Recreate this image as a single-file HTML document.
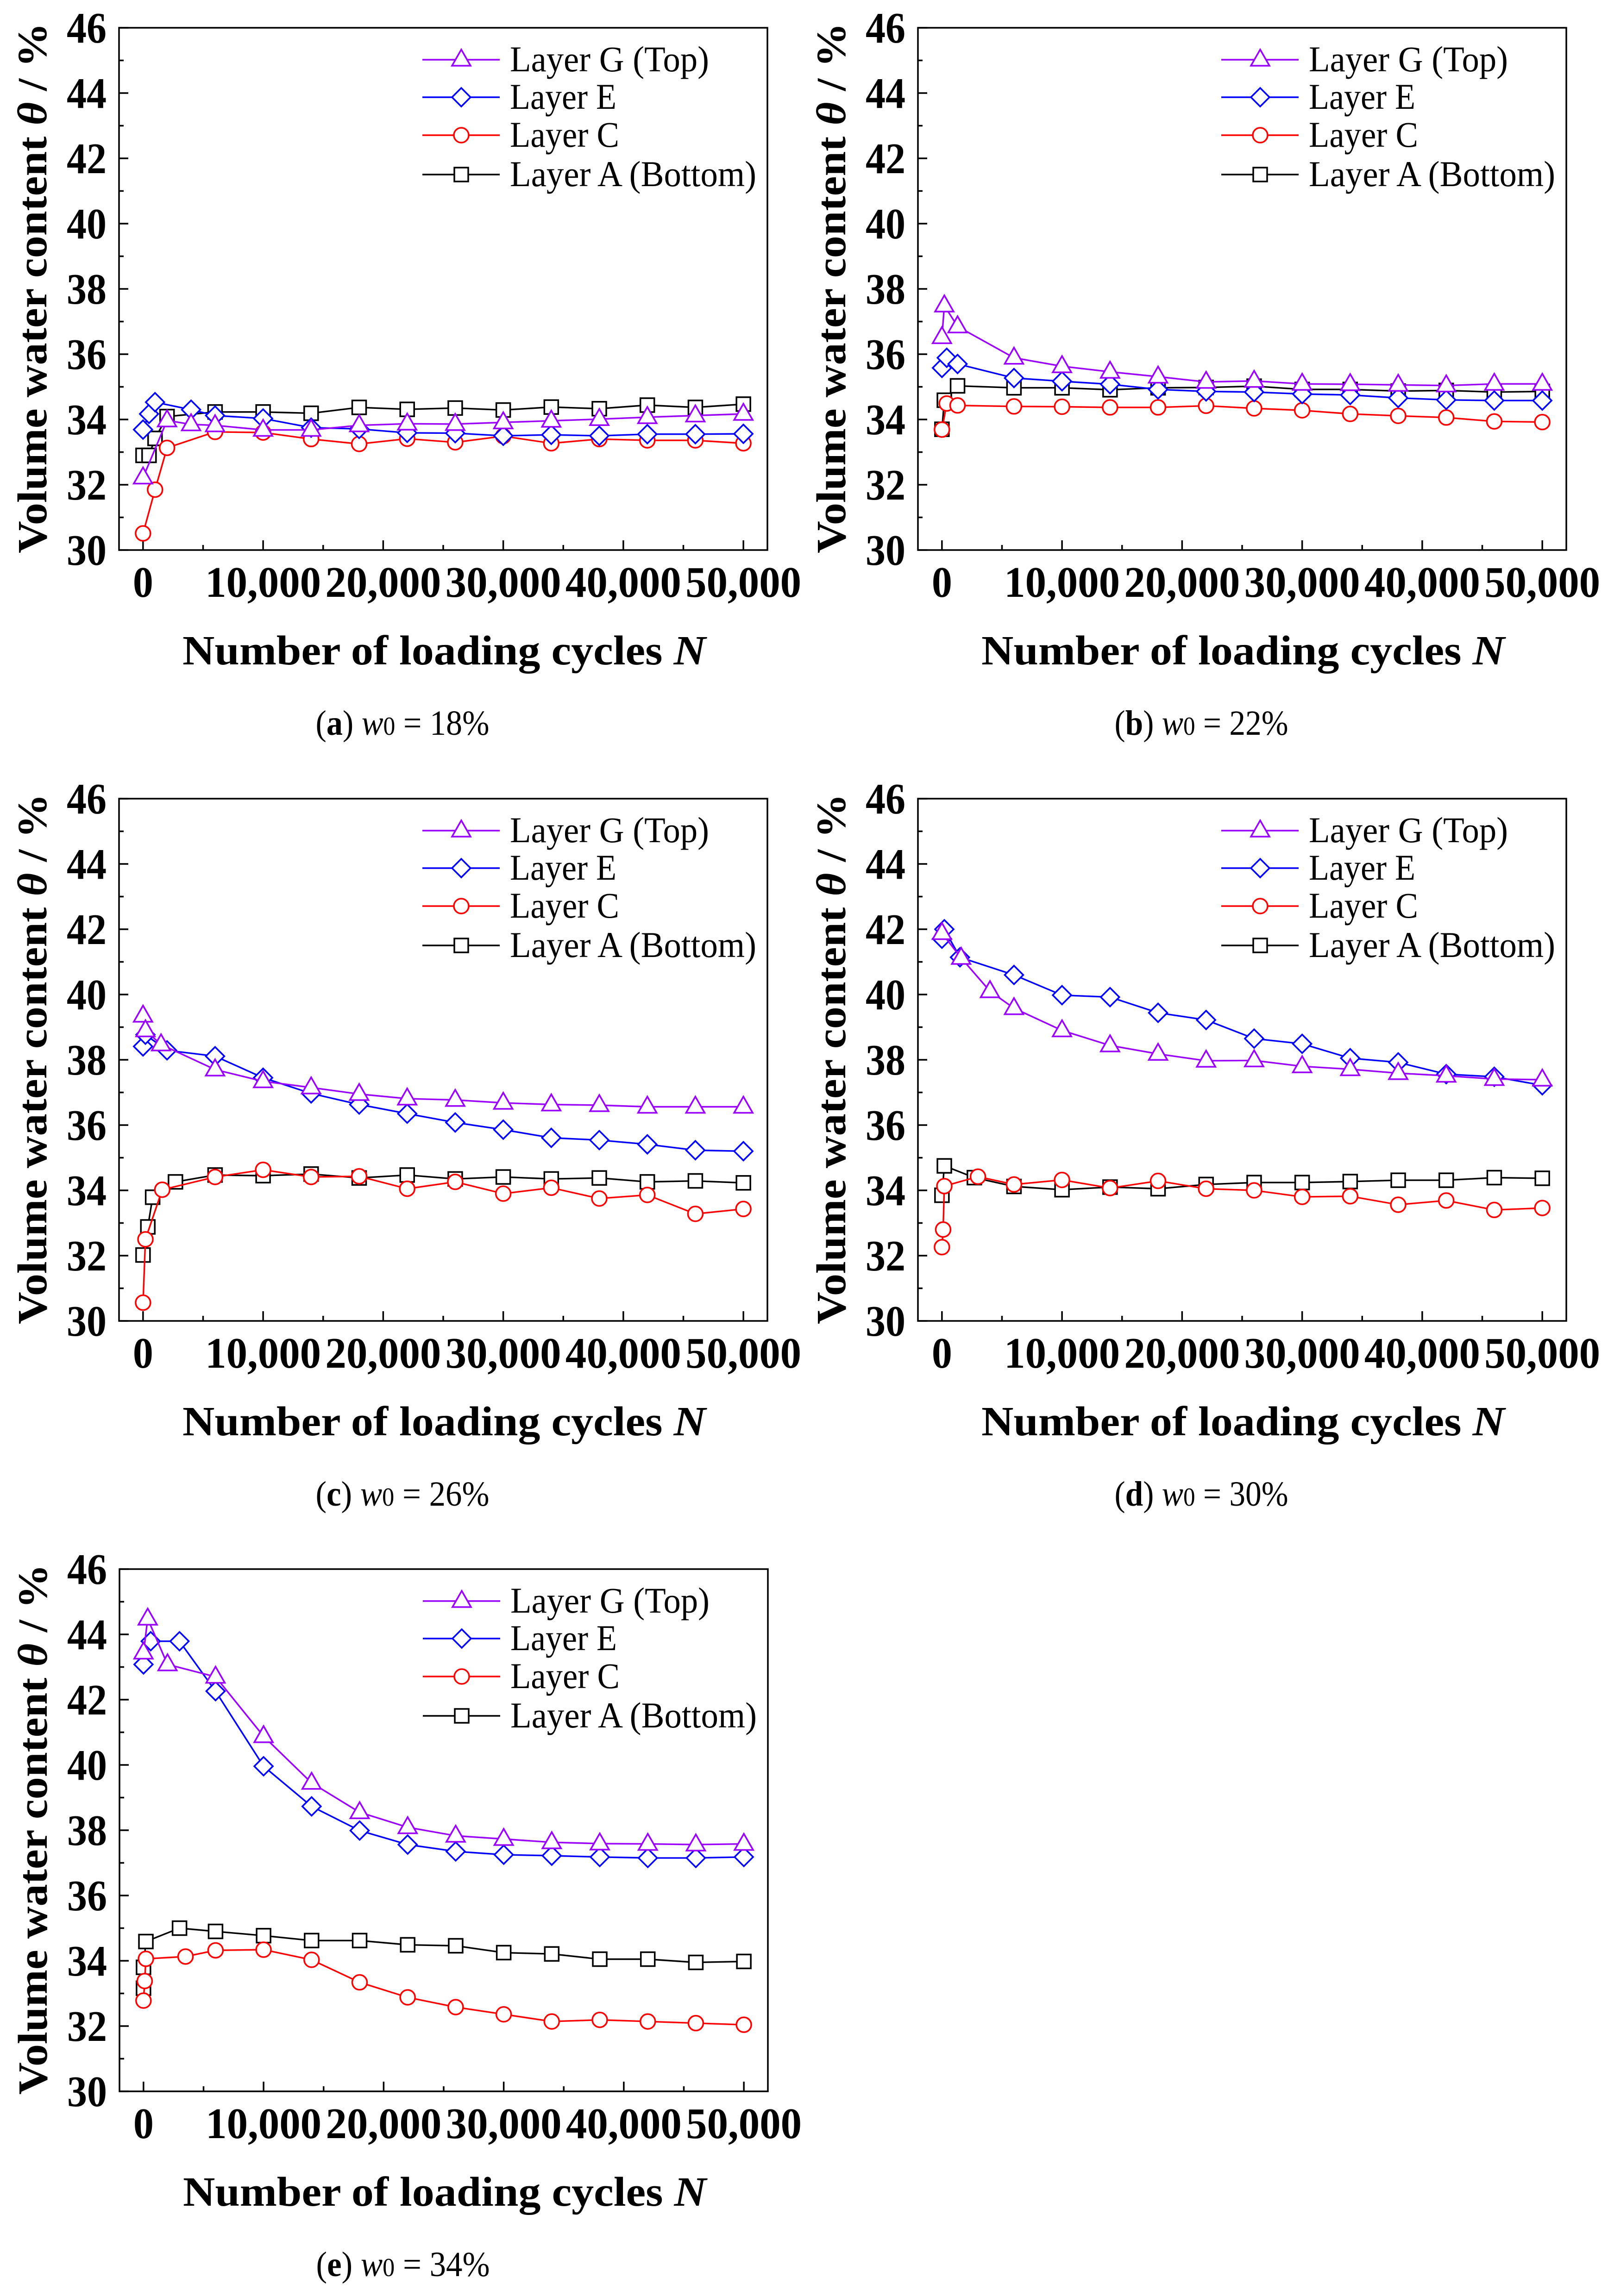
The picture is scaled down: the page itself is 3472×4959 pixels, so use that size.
<!DOCTYPE html>
<html><head><meta charset="utf-8"><title>Volume water content vs loading cycles</title>
<style>
html,body{margin:0;padding:0;background:#fff;}
svg{display:block;}
text{font-family:"Liberation Serif","Times New Roman",serif;}
</style></head>
<body>
<svg id="fig" xmlns="http://www.w3.org/2000/svg" width="3472" height="4959" viewBox="0 0 3472 4959">
<rect x="0" y="0" width="3472" height="4959" fill="#fff"/>
</svg>
<script>
// ---------- data ----------
const tailN = [6000,10000,14000,18000,22000,26000,30000,34000,38000,42000,46000,50000];
const yTickLabels = ["30","32","34","36","38","40","42","44","46"];
const xTickLabels = ["0","10,000","20,000","30,000","40,000","50,000"];
const legendLabels = ["Layer G (Top)","Layer E","Layer C","Layer A (Bottom)"];

// panel a (w0 = 18%)
const aG_N = [0,2000,4000].concat(tailN);
const aG_V = [32.22,33.97,33.85,33.82,33.68,33.68,33.82,33.87,33.86,33.91,33.96,34.01,34.07,34.12,34.17];
const aE_N = [0,500,1000,4000].concat(tailN);
const aE_V = [33.69,34.17,34.53,34.30,34.12,34.03,33.75,33.71,33.59,33.58,33.50,33.53,33.50,33.55,33.55,33.56];
const aC_N = [0,1000,2000].concat(tailN);
const aC_V = [30.51,31.85,33.13,33.62,33.60,33.40,33.25,33.41,33.30,33.49,33.27,33.40,33.36,33.36,33.27];
const aA_N = [0,500,1000,2000].concat(tailN);
const aA_V = [32.90,32.90,33.42,34.09,34.23,34.23,34.19,34.37,34.31,34.35,34.29,34.38,34.33,34.44,34.37,34.47];

// panel b (w0 = 22%)
const bG_N = [0,200,1300].concat(tailN);
const bG_V = [36.52,37.49,36.85,35.89,35.63,35.46,35.31,35.15,35.18,35.09,35.08,35.06,35.04,35.09,35.09];
const bE_N = [0,400,1300].concat(tailN);
const bE_V = [35.58,35.89,35.70,35.27,35.17,35.08,34.92,34.86,34.84,34.78,34.75,34.66,34.60,34.58,34.58];
const bC_N = [0,400,1300].concat(tailN);
const bC_V = [33.69,34.49,34.43,34.40,34.39,34.37,34.37,34.42,34.34,34.28,34.17,34.11,34.06,33.94,33.92];
const bA_N = [0,200,1300].concat(tailN);
const bA_V = [33.70,34.59,35.03,34.97,34.97,34.91,34.97,34.98,35.02,34.92,34.92,34.87,34.89,34.84,34.86];

// panel c (w0 = 26%)
const cG_N = [0,200,1500].concat(tailN);
const cG_V = [39.35,38.90,38.47,37.70,37.34,37.15,36.95,36.81,36.77,36.68,36.63,36.61,36.56,36.56,36.56];
const cE_N = [0,200,2000].concat(tailN);
const cE_V = [38.41,38.77,38.29,38.11,37.45,36.97,36.63,36.35,36.08,35.86,35.61,35.54,35.41,35.23,35.20];
const cC_N = [0,200,1600].concat(tailN);
const cC_V = [30.56,32.50,34.02,34.41,34.63,34.41,34.43,34.05,34.26,33.90,34.08,33.75,33.86,33.28,33.43];
const cA_N = [0,400,800,2700].concat(tailN);
const cA_V = [32.02,32.88,33.79,34.26,34.47,34.45,34.50,34.38,34.47,34.35,34.41,34.35,34.38,34.26,34.29,34.23];

// panel d (w0 = 30%)
const dG_N = [0,1600,4000].concat(tailN);
const dG_V = [41.88,41.12,40.10,39.58,38.90,38.44,38.18,37.97,37.98,37.80,37.71,37.59,37.51,37.41,37.39];
const dE_N = [0,200,1500].concat(tailN);
const dE_V = [41.71,42.00,41.14,40.60,39.98,39.92,39.44,39.22,38.65,38.49,38.05,37.92,37.56,37.48,37.22];
const dC_N = [0,100,200,3000].concat(tailN);
const dC_V = [32.26,32.80,34.13,34.42,34.18,34.32,34.07,34.29,34.05,34.00,33.80,33.82,33.56,33.69,33.40,33.46];
const dA_N = [0,200,2700].concat(tailN);
const dA_V = [33.85,34.75,34.39,34.12,34.02,34.10,34.05,34.18,34.24,34.24,34.27,34.31,34.31,34.39,34.37];

// panel e (w0 = 34%)
const eG_N = [0,350,2000].concat(tailN);
const eG_V = [43.44,44.48,43.08,42.70,40.88,39.45,38.55,38.09,37.83,37.73,37.63,37.59,37.58,37.56,37.58];
const eE_N = [0,600,3000].concat(tailN);
const eE_V = [43.08,43.79,43.79,42.26,39.96,38.73,37.99,37.56,37.35,37.25,37.22,37.18,37.15,37.15,37.18];
const eC_N = [0,100,200,3500].concat(tailN);
const eC_V = [32.78,33.38,34.06,34.13,34.32,34.34,34.03,33.34,32.88,32.58,32.36,32.14,32.19,32.14,32.09,32.04];
const eA_N = [0,0,200,3000].concat(tailN);
const eA_V = [33.16,33.80,34.59,35.00,34.90,34.77,34.62,34.62,34.49,34.46,34.25,34.21,34.05,34.05,33.95,33.98];

const captionLetters = ["a","b","c","d","e"];
const captionValues = ["18%","22%","26%","30%","34%"];

// ---------- drawing ----------
const NS = "http://www.w3.org/2000/svg";
const svg = document.getElementById("fig");
const PW = 1400, PH = 1128;
const XMIN = -2000, XMAX = 52000, YMIN = 30, YMAX = 46;
const COLORS = {G:"#9b00ff", E:"#0000ff", C:"#ff0000", A:"#000000"};
const LEGEND_W = [430, 230, 236, 532];

function mk(tag, attrs, parent){
  const el = document.createElementNS(NS, tag);
  for (const k in attrs) el.setAttribute(k, attrs[k]);
  (parent||svg).appendChild(el);
  return el;
}
function xScale(p, n){ return p.left + (n - XMIN)/(XMAX - XMIN)*PW; }
function yScale(p, v){ return p.top + (YMAX - v)/(YMAX - YMIN)*PH; }

function marker(g, type, cx, cy, color){
  let el;
  if (type === "G") {
    el = mk("polygon", {points:`${cx-20},${cy+13} ${cx+20},${cy+13} ${cx},${cy-22}`, fill:"#fff", stroke:color, "stroke-width":3.5}, g);
  } else if (type === "E") {
    el = mk("polygon", {points:`${cx},${cy-20} ${cx+20},${cy} ${cx},${cy+20} ${cx-20},${cy}`, fill:"#fff", stroke:color, "stroke-width":3.5}, g);
  } else if (type === "C") {
    el = mk("circle", {cx:cx, cy:cy, r:16, fill:"#fff", stroke:color, "stroke-width":3.5}, g);
  } else {
    el = mk("rect", {x:cx-15, y:cy-15, width:30, height:30, fill:"#fff", stroke:color, "stroke-width":3.5}, g);
  }
  return el;
}

function drawPanel(p, idx, series){
  const g = mk("g", {});
  
  

  for (let v = YMIN; v <= YMAX; v++) {
    const y = yScale(p, v);
    const len = (v % 2 === 0) ? 20 : 10;
    const t = mk("line", {x1:p.left, x2:p.left+len, y1:y, y2:y, stroke:"#000", "stroke-width":3.5}, g);
    
    
  }
  yTickLabels.forEach(function(lbl){
    const v = parseFloat(lbl);
    const t = mk("text", {x:p.left-27, y:yScale(p, v)+32, "text-anchor":"end", "font-size":94, "font-weight":"bold", textLength:86, lengthAdjust:"spacingAndGlyphs"}, g);
    t.textContent = lbl;
    
    
  });
  for (let n = 0; n <= 50000; n += 5000) {
    const x = xScale(p, n);
    const len = (n % 10000 === 0) ? 21 : 11;
    const t = mk("line", {x1:x, x2:x, y1:p.top+PH, y2:p.top+PH-len, stroke:"#000", "stroke-width":3.5}, g);
    
    
  }
  xTickLabels.forEach(function(lbl){
    const n = parseFloat(lbl.replace(/,/g, ""));
    const w = lbl.length === 1 ? 44 : 250;
    const t = mk("text", {x:xScale(p, n), y:p.top+PH+101, "text-anchor":"middle", "font-size":94, "font-weight":"bold", textLength:w, lengthAdjust:"spacingAndGlyphs"}, g);
    t.textContent = lbl;
    
    
  });

  ["A","C","E","G"].forEach(function(key){
    const s = series[key];
    const pts = s.N.map(function(n, i){ return xScale(p, n).toFixed(1) + "," + yScale(p, s.V[i]).toFixed(1); }).join(" ");
    const sg = mk("g", {}, g);
    
    
    const line = mk("polyline", {points:pts, fill:"none", stroke:COLORS[key], "stroke-width":3.4, "stroke-linejoin":"round"}, sg);
    
    
    s.N.forEach(function(n, i){
      const m = marker(sg, key, xScale(p, n), yScale(p, s.V[i]), COLORS[key]);
      
      
    });
  });

  const fr = mk("rect", {x:p.left, y:p.top, width:PW, height:PH, fill:"none", stroke:"#000", "stroke-width":3.5}, g);
  
  

  const lg = mk("g", {}, g);
  
  
  const rows = [69, 150, 232, 317];
  ["G","E","C","A"].forEach(function(key, i){
    const ry = p.top + rows[i];
    const eg = mk("g", {}, lg);
    
    
    mk("line", {x1:p.left+655, x2:p.left+822, y1:ry, y2:ry, stroke:COLORS[key], "stroke-width":3.4}, eg);
    marker(eg, key, p.left+739, ry, COLORS[key]);
    const t = mk("text", {x:p.left+844, y:ry+25, "font-size":78, textLength:LEGEND_W[i], lengthAdjust:"spacingAndGlyphs"}, eg);
    t.textContent = legendLabels[i];
    
    
  });

  const xt = mk("text", {x:p.left+702, y:p.top+1375, "text-anchor":"middle", "font-size":90, "font-weight":"bold", textLength:1130, lengthAdjust:"spacingAndGlyphs"}, g);
  xt.innerHTML = 'Number of loading cycles <tspan font-style="italic">N</tspan>';
  
  

  const cx = p.left - 188, cy = p.top + 562;
  const yt = mk("text", {x:cx, y:cy+31, "text-anchor":"middle", "font-size":90, "font-weight":"bold", transform:`rotate(-90 ${cx} ${cy})`, textLength:1146, lengthAdjust:"spacingAndGlyphs"}, g);
  yt.innerHTML = 'Volume water content <tspan font-style="italic">θ</tspan> / %';
  
  

  const cap = mk("text", {x:p.left+612, y:p.top+1527, "text-anchor":"middle", "font-size":76, textLength:375, lengthAdjust:"spacingAndGlyphs"}, g);
  cap.innerHTML = '(<tspan font-weight="bold">' + captionLetters[idx] + '</tspan>) <tspan font-style="italic">w</tspan><tspan font-size="56">0</tspan> = ' + captionValues[idx];
  
  
}

const panels = [
  {left:257, top:60},
  {left:1982, top:60},
  {left:257, top:1725},
  {left:1982, top:1725},
  {left:258, top:3389}
];
const allSeries = [
  {G:{N:aG_N,V:aG_V}, E:{N:aE_N,V:aE_V}, C:{N:aC_N,V:aC_V}, A:{N:aA_N,V:aA_V}},
  {G:{N:bG_N,V:bG_V}, E:{N:bE_N,V:bE_V}, C:{N:bC_N,V:bC_V}, A:{N:bA_N,V:bA_V}},
  {G:{N:cG_N,V:cG_V}, E:{N:cE_N,V:cE_V}, C:{N:cC_N,V:cC_V}, A:{N:cA_N,V:cA_V}},
  {G:{N:dG_N,V:dG_V}, E:{N:dE_N,V:dE_V}, C:{N:dC_N,V:dC_V}, A:{N:dA_N,V:dA_V}},
  {G:{N:eG_N,V:eG_V}, E:{N:eE_N,V:eE_V}, C:{N:eC_N,V:eC_V}, A:{N:eA_N,V:eA_V}}
];
panels.forEach(function(p, i){ drawPanel(p, i, allSeries[i]); });
</script>
</body></html>
